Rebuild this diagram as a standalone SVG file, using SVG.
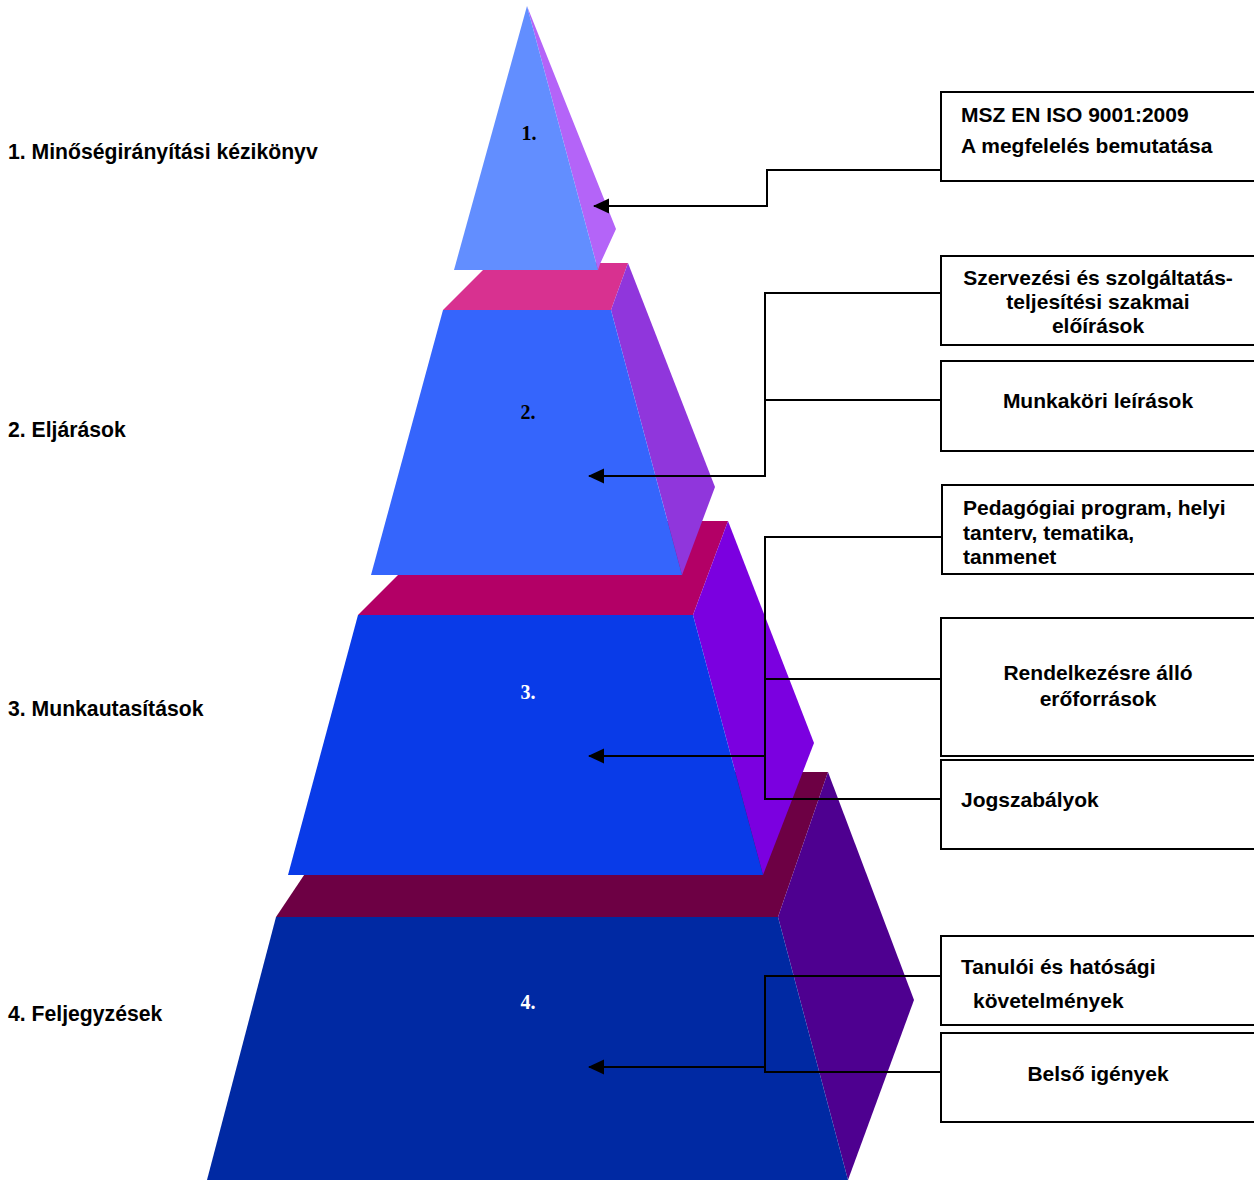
<svg xmlns="http://www.w3.org/2000/svg" width="1254" height="1180" viewBox="0 0 1254 1180">
<defs>
<style>
.lbl{font-family:"Liberation Sans",Arial,sans-serif;font-weight:bold;font-size:21.2px;fill:#000}
.bt{font-family:"Liberation Sans",Arial,sans-serif;font-weight:bold;font-size:21px;fill:#000}
.mid{text-anchor:middle}
.num{font-family:"Liberation Serif","Times New Roman",serif;font-weight:bold;font-size:20px;text-anchor:middle}
.box{fill:#fff;stroke:#000;stroke-width:2}
.conn{fill:none;stroke:#000;stroke-width:2}
</style>
<marker id="arr" viewBox="0 0 16 16" markerWidth="16" markerHeight="16" refX="15" refY="8" orient="auto" markerUnits="userSpaceOnUse">
<path d="M0,0.5 L16,8 L0,15.5 z" fill="#000"/>
</marker>
</defs>
<rect width="1254" height="1180" fill="#fff"/>

<g id="level4">
<polygon points="373,772 828,772 778,917 276,917" fill="#6D0044"/>
<polygon points="828,772 914,1000 848,1180 778,917" fill="#4E0090"/>
<polygon points="276,917 778,917 848,1180 207,1180" fill="#0029A3"/>
<text class="num" x="528" y="1009" fill="#fff">4.</text>
</g>
<g id="level3">
<polygon points="452,521 728,521 693,615 358,615" fill="#B30066"/>
<polygon points="728,521 814,743 763,875 693,615" fill="#7B00E0"/>
<polygon points="358,615 693,615 763,875 288,875" fill="#093BE8"/>
<text class="num" x="528" y="699" fill="#fff">3.</text>
</g>
<g id="level2">
<polygon points="490,263 628,263 611,310 443,310" fill="#D83190"/>
<polygon points="628,263 715,487 682,575 611,310" fill="#9036DC"/>
<polygon points="443,310 611,310 682,575 371,575" fill="#3565FC"/>
<text class="num" x="528" y="419" fill="#000">2.</text>
</g>
<g id="level1">
<polygon points="527,6 616,229 600,264 598,270" fill="#B464F8"/>
<polygon points="527,6 598,270 454,270" fill="#628EFF"/>
<text class="num" x="529" y="140" fill="#000">1.</text>
</g>

<g id="labels">
<text class="lbl" x="8" y="159">1. Minőségirányítási kézikönyv</text>
<text class="lbl" x="8" y="437">2. Eljárások</text>
<text class="lbl" x="8" y="716">3. Munkautasítások</text>
<text class="lbl" x="8" y="1021">4. Feljegyzések</text>
</g>

<g id="connectors">
<path class="conn" d="M941,170 H767 V206 H594" marker-end="url(#arr)"/>
<path class="conn" d="M941,293 H765 V476 H589" marker-end="url(#arr)"/>
<path class="conn" d="M941,400 H765"/>
<path class="conn" d="M942,537 H765 V799 H941"/>
<path class="conn" d="M941,679 H765"/>
<path class="conn" d="M765,756 H589" marker-end="url(#arr)"/>
<path class="conn" d="M941,976 H765 V1072 H941"/>
<path class="conn" d="M765,1067 H589" marker-end="url(#arr)"/>
</g>

<g id="box-iso">
<rect class="box" x="941" y="92" width="320" height="89"/>
<text class="bt" x="961" y="122">MSZ EN ISO 9001:2009</text>
<text class="bt" x="961" y="153">A megfelelés bemutatása</text>
</g>
<g id="box-szervezesi">
<rect class="box" x="941" y="256" width="320" height="89"/>
<text class="bt mid" x="1098" y="285">Szervezési és szolgáltatás-</text>
<text class="bt mid" x="1098" y="309">teljesítési szakmai</text>
<text class="bt mid" x="1098" y="333">előírások</text>
</g>
<g id="box-munkakori">
<rect class="box" x="941" y="361" width="320" height="90"/>
<text class="bt mid" x="1098" y="408">Munkaköri leírások</text>
</g>
<g id="box-pedagogiai">
<rect class="box" x="942" y="485" width="320" height="89"/>
<text class="bt" x="963" y="515">Pedagógiai program, helyi</text>
<text class="bt" x="963" y="540">tanterv, tematika,</text>
<text class="bt" x="963" y="564">tanmenet</text>
</g>
<g id="box-eroforrasok">
<rect class="box" x="941" y="618" width="320" height="138"/>
<text class="bt mid" x="1098" y="680">Rendelkezésre álló</text>
<text class="bt mid" x="1098" y="706">erőforrások</text>
</g>
<g id="box-jogszabalyok">
<rect class="box" x="941" y="760" width="320" height="89"/>
<text class="bt" x="961" y="807">Jogszabályok</text>
</g>
<g id="box-tanuloi">
<rect class="box" x="941" y="936" width="320" height="89"/>
<text class="bt" x="961" y="974">Tanulói és hatósági</text>
<text class="bt" x="973" y="1008">követelmények</text>
</g>
<g id="box-belso">
<rect class="box" x="941" y="1033" width="320" height="89"/>
<text class="bt mid" x="1098" y="1081">Belső igények</text>
</g>
</svg>
